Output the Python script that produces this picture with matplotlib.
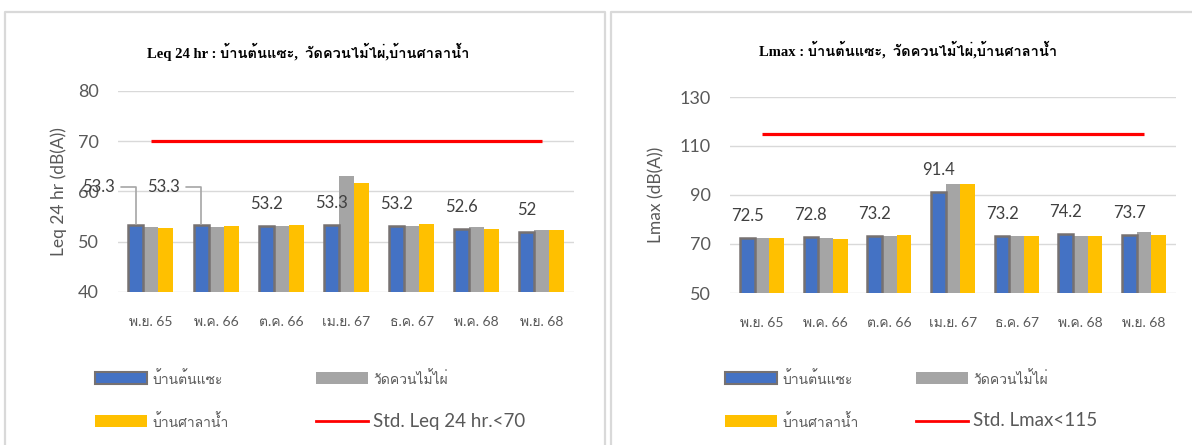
import matplotlib
matplotlib.use("Agg")
import matplotlib.pyplot as plt
import numpy as np
from matplotlib import font_manager
from matplotlib.ft2font import FT2Font
from matplotlib.patches import Rectangle
from matplotlib.lines import Line2D

# ---- data -------------------------------------------------------------
months = ["พ.ย. 65", "พ.ค. 66", "ต.ค. 66", "เม.ย. 67", "ธ.ค. 67", "พ.ค. 68", "พ.ย. 68"]
series_names = ["บ้านต้นแซะ", "วัดควนไม้ไผ่", "บ้านศาลาน้ำ"]

leq_ban_ton = [53.3, 53.3, 53.2, 53.3, 53.2, 52.6, 52.0]
leq_wat = [52.9, 52.9, 53.1, 63.1, 53.2, 52.9, 52.3]
leq_sala = [52.8, 53.1, 53.3, 61.6, 53.5, 52.6, 52.3]
leq_std = [70, 70, 70, 70, 70, 70, 70]

lmax_ban_ton = [72.5, 72.8, 73.2, 91.4, 73.2, 74.2, 73.7]
lmax_wat = [72.4, 72.3, 73.1, 94.4, 73.1, 73.3, 74.9]
lmax_sala = [72.6, 72.2, 73.7, 94.4, 73.2, 73.2, 73.7]
lmax_std = [115, 115, 115, 115, 115, 115, 115]

leq_ticks = [40, 50, 60, 70, 80]
lmax_ticks = [50, 70, 90, 110, 130]

BLUE, GRAY, YELLOW, RED = "#4472C4", "#A5A5A5", "#FFC000", "#FF0000"
EDGE = "#767171"
GRID = "#D9D9D9"
TXT = "#595959"


def thai_family():
    """First installed font that actually has Thai glyphs, if any."""
    for entry in font_manager.fontManager.ttflist:
        try:
            if 0x0E1A in FT2Font(entry.fname).get_charmap():
                return entry.name
        except Exception:
            continue
    return None


_thai = thai_family()
SANS = ["Lato"] + ([_thai] if _thai else []) + ["DejaVu Sans"]
SERIF = ["Liberation Serif"] + ([_thai] if _thai else []) + ["DejaVu Sans"]


def draw_panel(ax, blue, gray, yellow, std, ticks, ylabel, label_shift):
    x = np.arange(len(months))
    w = 0.23
    ax.bar(x - w, blue, w, color=BLUE, edgecolor=EDGE, linewidth=1.8, zorder=3)
    ax.bar(x, gray, w, color=GRAY, zorder=2)
    ax.bar(x + w, yellow, w, color=YELLOW, zorder=2)
    ax.plot(x, std, color=RED, lw=2.3, zorder=4, solid_capstyle="butt")

    for i, v in enumerate(blue):
        lbl = f"{v:g}"
        kw = dict(textcoords="offset pixels", ha="center", va="center",
                  fontsize=12, color="#404040", family=SANS)
        if i in label_shift:
            # label pulled up and left, joined to its bar by a leader line
            ax.annotate(lbl, (x[i] - w, v), xytext=label_shift[i],
                        arrowprops=dict(arrowstyle="-", color="#A6A6A6", lw=1.2,
                                        connectionstyle="angle,angleA=0,angleB=90,rad=0",
                                        relpos=(1.0, 0.5), shrinkA=3, shrinkB=1), **kw)
        else:
            ax.annotate(lbl, (x[i] - w, v), xytext=(0, 22), **kw)

    ax.set_xlim(-0.5, len(months) - 0.5)
    ax.set_ylim(ticks[0], ticks[-1])
    ax.set_yticks(ticks)
    ax.set_xticks(x, months)
    ax.grid(axis="y", color=GRID, lw=1.0, zorder=0)
    ax.set_axisbelow(True)
    for s in ax.spines.values():
        s.set_visible(False)
    ax.tick_params(axis="y", length=0, pad=14, labelsize=13, labelcolor=TXT)
    ax.tick_params(axis="x", length=0, pad=17, labelsize=10, labelcolor=TXT)
    for t in ax.get_xticklabels() + ax.get_yticklabels():
        t.set_family(SANS)
    ax.set_ylabel(ylabel, fontsize=12.5, color=TXT, family=SANS)


fig = plt.figure(figsize=(11.92, 4.45), dpi=100)

ax1 = fig.add_axes([118.4 / 1192, 1 - 292 / 445, 456 / 1192, 201 / 445])
draw_panel(ax1, leq_ban_ton, leq_wat, leq_sala, leq_std, leq_ticks,
           "Leq 24 hr (dB(A))", {0: (-38, 38), 1: (-38, 38)})
ax1.yaxis.set_label_coords(-0.113, 0.5)

ax2 = fig.add_axes([730 / 1192, 1 - 293 / 445, 446 / 1192, 196 / 445])
draw_panel(ax2, lmax_ban_ton, lmax_wat, lmax_sala, lmax_std, lmax_ticks,
           "Lmax (dB(A))", {})
ax2.yaxis.set_label_coords(-0.146, 0.5)

# overlay in pixel coordinates for the chart-area frames, titles and legends
ov = fig.add_axes([0, 0, 1, 1], zorder=-1)
ov.set_xlim(0, 1192)
ov.set_ylim(445, 0)
ov.axis("off")

for xs, ys in [([5, 5, 605, 605], [445, 12, 12, 445]), ([611, 611, 1192], [445, 12, 12])]:
    ov.add_line(Line2D(xs, ys, color=GRID, lw=1.6))

ov.text(308, 52, "Leq 24 hr : บ้านต้นแซะ,  วัดควนไม้ไผ่,บ้านศาลาน้ำ", ha="center", va="center",
        fontsize=10.5, fontweight="bold", family=SERIF, color="black")
ov.text(908, 50, "Lmax : บ้านต้นแซะ,  วัดควนไม้ไผ่,บ้านศาลาน้ำ", ha="center", va="center",
        fontsize=10.5, fontweight="bold", family=SERIF, color="black")


def legend(x1, x2, std_label):
    rows = [378, 421]
    ov.add_patch(Rectangle((x1, rows[0] - 6), 52, 12, facecolor=BLUE, edgecolor=EDGE, lw=1.5))
    ov.add_patch(Rectangle((x2, rows[0] - 6), 52, 12, facecolor=GRAY, edgecolor="none"))
    ov.add_patch(Rectangle((x1, rows[1] - 6), 52, 12, facecolor=YELLOW, edgecolor="none"))
    ov.add_line(Line2D([x2, x2 + 52], [rows[1], rows[1]], color=RED, lw=2.0))
    kw = dict(va="center", ha="left", color=TXT, family=SANS)
    ov.text(x1 + 57, rows[0], series_names[0], fontsize=10, **kw)
    ov.text(x2 + 57, rows[0], series_names[1], fontsize=10, **kw)
    ov.text(x1 + 57, rows[1], series_names[2], fontsize=10, **kw)
    ov.text(x2 + 57, rows[1], std_label, fontsize=13.5, **kw)


legend(95, 316, "Std. Leq 24 hr.<70")
legend(725, 916, "Std. Lmax<115")

fig.savefig("out.png", dpi=100)
